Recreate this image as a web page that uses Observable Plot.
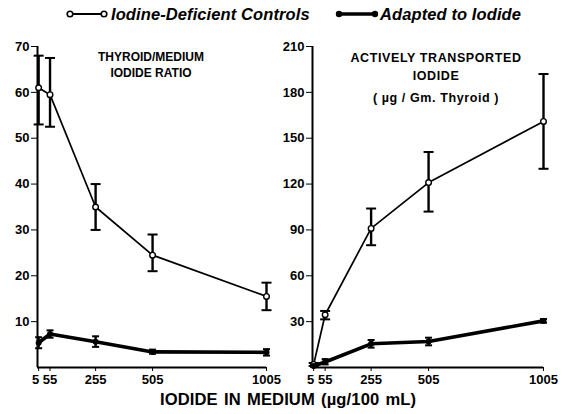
<!DOCTYPE html>
<html><head><meta charset="utf-8">
<script src="https://cdn.jsdelivr.net/npm/d3@7"></script>
<script src="https://cdn.jsdelivr.net/npm/@observablehq/plot@0.6"></script>
<style>
body{margin:0;background:#fff;}
#wrap{position:relative;width:565px;height:414px;overflow:hidden;font-family:"Liberation Sans",Arial,sans-serif;color:#000;}
#wrap svg.plotsvg{position:absolute;top:0;max-width:none;}
.ptitleR text{letter-spacing:0.6px;}
#legend{position:absolute;top:4px;left:0;width:565px;height:22px;}
.leg{position:absolute;top:0;font-style:italic;font-weight:bold;font-size:16.5px;letter-spacing:0.1px;line-height:20px;white-space:nowrap;}
#xtitle{position:absolute;top:389px;left:160px;font-size:16.6px;font-weight:bold;letter-spacing:0.1px;word-spacing:1.5px;white-space:nowrap;line-height:22px;}
</style></head><body><div id="wrap"></div>
<script>
// ---- data ----
const doses = [5, 55, 255, 505, 1005];
const xTicks = [5, 55, 255, 505, 1005];
const xTickLabels = ["5", "55", "255", "505", "1005"];

// Thyroid/medium iodide ratio
const ratioControl   = [61, 59.5, 35, 24.5, 15.5];
const ratioControlLo = [53, 52.5, 30, 21, 12.5];
const ratioControlHi = [68, 67.5, 40, 29, 18.5];
const ratioAdapted   = [5.4, 7.3, 5.6, 3.4, 3.3];
const ratioAdaptedLo = [4.2, 6.5, 4.5, 3.0, 2.6];
const ratioAdaptedHi = [6.6, 8.1, 6.8, 3.9, 4.0];
const ratioTicks = [10, 20, 30, 40, 50, 60, 70];
const ratioTitle = ["THYROID/MEDIUM", "IODIDE RATIO"];

// Actively transported iodide (µg/Gm. thyroid)
const transControl   = [2, 34.5, 91, 121, 161];
const transControlLo = [1, 31.5, 80, 102, 130];
const transControlHi = [3, 37, 104, 141, 192];
const transAdapted   = [1, 3.6, 15.5, 17, 30.5];
const transAdaptedLo = [0.3, 2, 13, 14.5, 29.3];
const transAdaptedHi = [1.7, 5.5, 18, 19.5, 31.7];
const transTicks = [30, 60, 90, 120, 150, 180, 210];
const transTitle = ["ACTIVELY TRANSPORTED", "IODIDE", "( \u00B5g / Gm. Thyroid )"];

const seriesNames = ["Iodine-Deficient Controls", "Adapted to Iodide"];
const xAxisTitle = "IODIDE IN MEDIUM (\u00B5g/100 mL)";

// ---- drawing ----
const FONT = '"Liberation Sans", Arial, sans-serif';
const cap = {draw(ctx, size) { const r = Math.sqrt(size / Math.PI); ctx.moveTo(-r, 0); ctx.lineTo(r, 0); }};
const labelOf = d => xTickLabels[xTicks.indexOf(d)];

function rows(v, lo, hi) {
  return doses.map((d, i) => ({x: d, y: v[i], lo: lo[i], hi: hi[i]}));
}

function panel(o) {
  const C = rows(o.ctl, o.ctlLo, o.ctlHi);
  const A = rows(o.adp, o.adpLo, o.adpHi);
  const yMax = o.yTicks[o.yTicks.length - 1];
  const titleMarks = o.titles.map((t, i) => Plot.text([t], {
    frameAnchor: "top", dx: o.titleDx, dy: o.titleDy[i],
    fontSize: o.titleSize[i], fontWeight: "bold", className: o.titleClass
  }));
  const svg = Plot.plot({
    width: o.width, height: 390,
    marginTop: 46, marginBottom: 23, marginLeft: o.marginLeft, marginRight: o.marginRight,
    style: {fontFamily: FONT, fontSize: "13px", fontWeight: "bold", color: "#000", background: "transparent", overflow: "visible"},
    x: {domain: [0, 1005], label: null},
    y: {domain: [0, yMax], ticks: o.yTicks, tickSize: 6, tickPadding: 2, label: null},
    marks: [
      // x axis: ticks for all doses, first label nudged left so "5" and "55" stay apart
      Plot.axisX(xTicks, {tickSize: 4, tickPadding: 3, tickFormat: d => d === xTicks[0] ? null : labelOf(d), label: null}),
      Plot.axisX([xTicks[0]], {tickSize: 0, tickPadding: 7, dx: -3, tickFormat: labelOf, label: null}),
      Plot.ruleX([0], {y1: 0, y2: yMax, strokeWidth: 2}),
      Plot.ruleY([0], {x1: 0, x2: 1005, strokeWidth: 2}),
      // controls
      Plot.ruleX(C, {x: "x", y1: "lo", y2: "hi", strokeWidth: 2.4}),
      Plot.dot(C, {x: "x", y: "lo", symbol: cap, r: 5, stroke: "black", strokeWidth: 2}),
      Plot.dot(C, {x: "x", y: "hi", symbol: cap, r: 5, stroke: "black", strokeWidth: 2}),
      Plot.line(C, {x: "x", y: "y", strokeWidth: 1.7, stroke: "black"}),
      Plot.dot(C, {x: "x", y: "y", r: 2.8, fill: "white", stroke: "black", strokeWidth: 1.4}),
      // adapted
      Plot.ruleX(A, {x: "x", y1: "lo", y2: "hi", strokeWidth: 2.4}),
      Plot.dot(A, {x: "x", y: "lo", symbol: cap, r: 3.5, stroke: "black", strokeWidth: 2}),
      Plot.dot(A, {x: "x", y: "hi", symbol: cap, r: 3.5, stroke: "black", strokeWidth: 2}),
      Plot.line(A, {x: "x", y: "y", strokeWidth: 3.6, stroke: "black"}),
      Plot.dot(A, {x: "x", y: "y", r: 3, fill: "black"}),
      ...titleMarks
    ]
  });
  svg.classList.add("plotsvg");
  svg.style.left = o.left + "px";
  return svg;
}

const wrap = document.getElementById("wrap");
wrap.appendChild(panel({
  left: 0, width: 283, marginLeft: 37, marginRight: 17,
  yTicks: ratioTicks, ctl: ratioControl, ctlLo: ratioControlLo, ctlHi: ratioControlHi,
  adp: ratioAdapted, adpLo: ratioAdaptedLo, adpHi: ratioAdaptedHi,
  titles: ratioTitle, titleDx: -1, titleDy: [6, 22], titleSize: [12, 12], titleClass: "ptitleL"
}));
wrap.appendChild(panel({
  left: 276, width: 289, marginLeft: 36, marginRight: 22,
  yTicks: transTicks, ctl: transControl, ctlLo: transControlLo, ctlHi: transControlHi,
  adp: transAdapted, adpLo: transAdaptedLo, adpHi: transAdaptedHi,
  titles: transTitle, titleDx: 8, titleDy: [7, 25, 47], titleSize: [12.5, 12.5, 12.5], titleClass: "ptitleR"
}));

// legend
const legend = document.createElement("div");
legend.id = "legend";
legend.innerHTML =
  `<svg width="565" height="22" style="position:absolute;left:0;top:0">
     <line x1="70" y1="10" x2="104" y2="10" stroke="black" stroke-width="1.8"/>
     <circle cx="70" cy="10" r="2.8" fill="white" stroke="black" stroke-width="1.6"/>
     <circle cx="104" cy="10" r="2.8" fill="white" stroke="black" stroke-width="1.6"/>
     <line x1="339" y1="10" x2="375" y2="10" stroke="black" stroke-width="3.4"/>
     <circle cx="339" cy="10" r="3.2" fill="black"/>
     <circle cx="375" cy="10" r="3.2" fill="black"/>
   </svg>
   <div class="leg" style="left:111px">${seriesNames[0]}</div>
   <div class="leg" style="left:380px">${seriesNames[1]}</div>`;
wrap.appendChild(legend);

const xt = document.createElement("div");
xt.id = "xtitle";
xt.textContent = xAxisTitle;
wrap.appendChild(xt);
</script>
</body></html>
